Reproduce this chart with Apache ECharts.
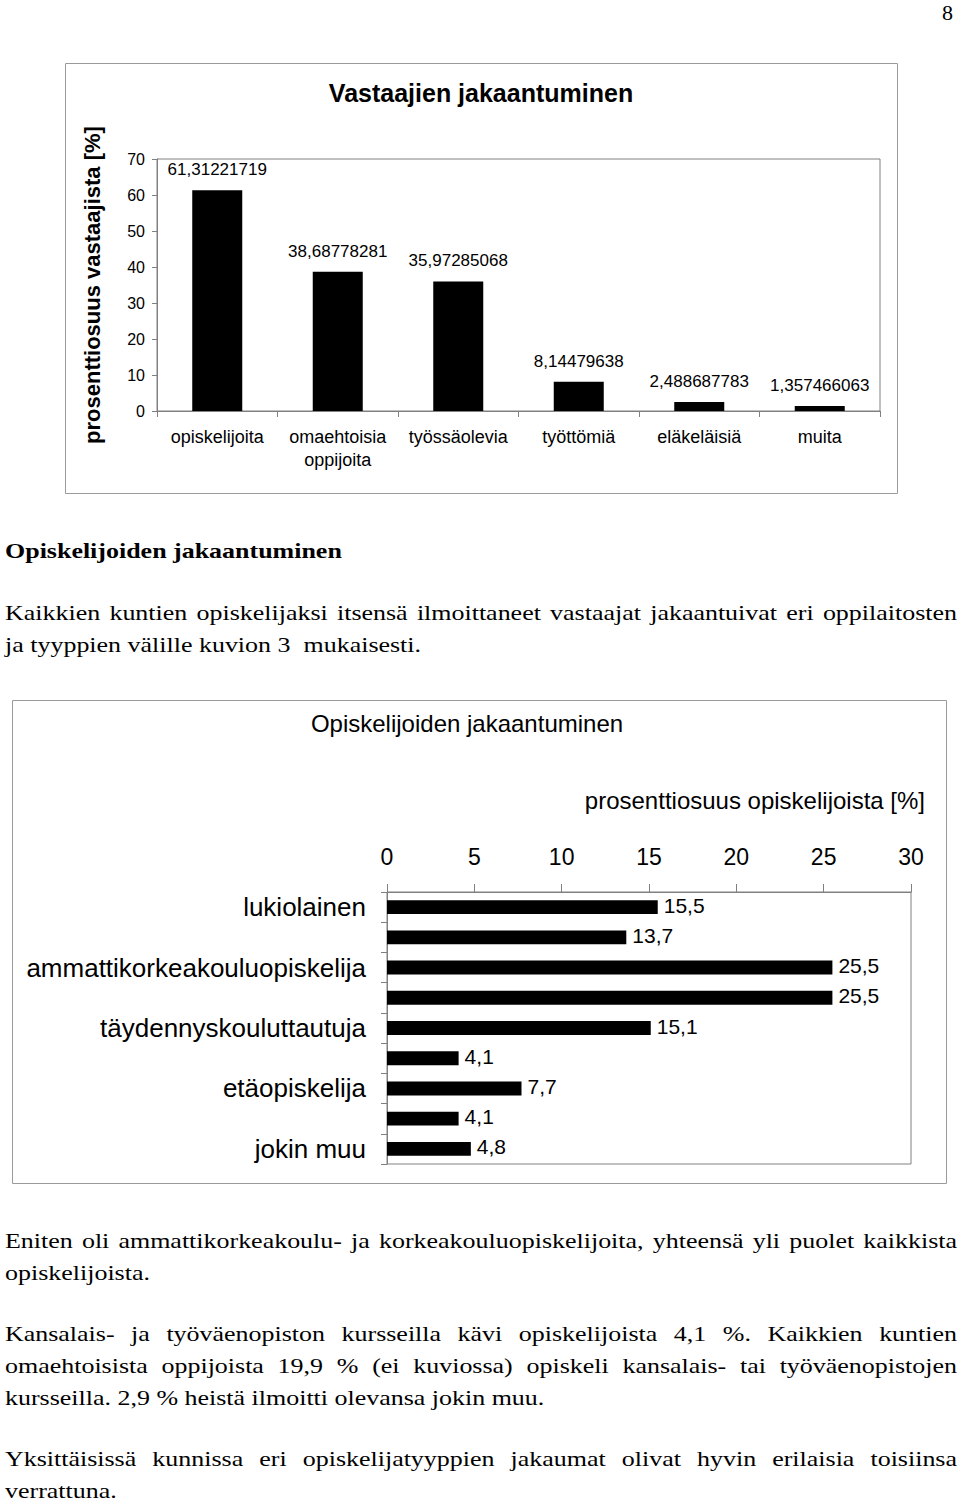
<!DOCTYPE html>
<html>
<head>
<meta charset="utf-8">
<script src="https://cdn.jsdelivr.net/npm/echarts@6/dist/echarts.min.js"></script>
<style>
  html, body { margin: 0; padding: 0; background: #fff; }
  #page { position: relative; width: 960px; height: 1502px; overflow: hidden; background: #fff; }
  #chart { position: absolute; left: 0; top: 0; width: 960px; height: 1502px; }
  .ln { position: absolute; left: 5px; height: 32px; line-height: 32px; white-space: pre;
        font-family: "Liberation Serif", "Times New Roman", serif; font-size: 22px; color: #000;
        transform-origin: 0 50%; }
</style>
</head>
<body>
<div id="page">
  <div id="chart"></div>
</div>
<script>
// ---- Chart 1 data: Vastaajien jakaantuminen ----
const cats1 = ['opiskelijoita', 'omaehtoisia\noppijoita', 'työssäolevia', 'työttömiä', 'eläkeläisiä', 'muita'];
const vals1 = [61.31221719, 38.68778281, 35.97285068, 8.14479638, 2.488687783, 1.357466063];
const yTicks1 = [0, 10, 20, 30, 40, 50, 60, 70];

// ---- Chart 2 data: Opiskelijoiden jakaantuminen ----
const cats2 = ['lukiolainen', '', 'ammattikorkeakouluopiskelija', '', 'täydennyskouluttautuja', '', 'etäopiskelija', '', 'jokin muu'];
const vals2 = [15.5, 13.7, 25.5, 25.5, 15.1, 4.1, 7.7, 4.1, 4.8];
const xTicks2 = [0, 5, 10, 15, 20, 25, 30];

// ---- Texts ----
const title1 = 'Vastaajien jakaantuminen';
const yName1 = 'prosenttiosuus vastaajista [%]';
const title2 = 'Opiskelijoiden jakaantuminen';
const xName2 = 'prosenttiosuus opiskelijoista [%]';

const SANS = '"Liberation Sans", Arial, sans-serif';
const comma = v => String(v).replace('.', ',');

const chart = echarts.init(document.getElementById('chart'), null, { renderer: 'svg' });
chart.setOption({
  backgroundColor: 'transparent',
  animation: false,
  textStyle: { fontFamily: SANS, color: '#000' },
  graphic: [
    { type: 'rect', shape: { x: 65.5, y: 63.5, width: 832, height: 430 }, style: { fill: 'none', stroke: '#9a9a9a', lineWidth: 1 } },
    { type: 'rect', shape: { x: 12.5, y: 700.5, width: 934, height: 483 }, style: { fill: 'none', stroke: '#9a9a9a', lineWidth: 1 } },
    { type: 'text', x: 481, y: 93, style: { text: title1, font: 'bold 25px ' + SANS, fill: '#000', textAlign: 'center', textVerticalAlign: 'middle' } },
    { type: 'text', x: 467, y: 723, style: { text: title2, font: '24px ' + SANS, fill: '#000', textAlign: 'center', textVerticalAlign: 'middle' } },
    { type: 'text', x: 925, y: 800, style: { text: xName2, font: '24px ' + SANS, fill: '#000', textAlign: 'right', textVerticalAlign: 'middle' } }
  ],
  grid: [
    { left: 157, top: 159, width: 723, height: 252, show: true, borderColor: '#808080', borderWidth: 1, backgroundColor: 'transparent' },
    { left: 387, top: 892, width: 524, height: 272, show: true, borderColor: '#808080', borderWidth: 1, backgroundColor: 'transparent' }
  ],
  xAxis: [
    {
      type: 'category', gridIndex: 0, data: cats1,
      axisLine: { show: true, lineStyle: { color: '#808080' } },
      axisTick: { show: true, length: 6, lineStyle: { color: '#808080' } },
      axisLabel: { interval: 0, fontSize: 18, color: '#000', margin: 14, lineHeight: 23 },
      splitLine: { show: false }
    },
    {
      type: 'value', gridIndex: 1, position: 'top',
      min: xTicks2[0], max: xTicks2[xTicks2.length - 1], interval: xTicks2[1] - xTicks2[0],
      axisLine: { show: true, lineStyle: { color: '#808080' } },
      axisTick: { show: true, length: 8, lineStyle: { color: '#808080' } },
      axisLabel: { fontSize: 23, color: '#000', margin: 24 },
      splitLine: { show: false }
    }
  ],
  yAxis: [
    {
      type: 'value', gridIndex: 0,
      min: yTicks1[0], max: yTicks1[yTicks1.length - 1], interval: yTicks1[1] - yTicks1[0],
      axisLine: { show: true, lineStyle: { color: '#808080' } },
      axisTick: { show: true, length: 5, lineStyle: { color: '#808080' } },
      axisLabel: { fontSize: 16, color: '#000', margin: 12 },
      splitLine: { show: false },
      name: yName1, nameLocation: 'middle', nameRotate: 90, nameGap: 54,
      nameTextStyle: { fontSize: 22, fontWeight: 'bold', color: '#000', fontFamily: SANS }
    },
    {
      type: 'category', gridIndex: 1, data: cats2, inverse: true,
      axisLine: { show: true, lineStyle: { color: '#808080' } },
      axisTick: { show: true, length: 6, lineStyle: { color: '#808080' } },
      axisLabel: { interval: 0, fontSize: 26, color: '#000', margin: 21 },
      splitLine: { show: false }
    }
  ],
  series: [
    {
      type: 'bar', xAxisIndex: 0, yAxisIndex: 0, data: vals1, barWidth: '41.5%',
      itemStyle: { color: '#000' },
      label: { show: true, position: 'top', distance: 12, fontSize: 17, color: '#000', formatter: p => comma(p.value) }
    },
    {
      type: 'bar', xAxisIndex: 1, yAxisIndex: 1, data: vals2, barWidth: '46%',
      itemStyle: { color: '#000' },
      label: { show: true, position: 'right', distance: 6, fontSize: 21, color: '#000', offset: [0, -2], formatter: p => comma(p.value) }
    }
  ]
});

// ---- Document prose (Times-like, horizontally stretched as in the scan) ----
const S = 1.18;
const FULL = 952;
const lines = [
  { t: 'Opiskelijoiden jakaantuminen', y: 551, bold: true },
  { t: 'Kaikkien kuntien opiskelijaksi itsensä ilmoittaneet vastaajat jakaantuivat eri oppilaitosten', y: 613, j: true },
  { t: 'ja tyyppien välille kuvion 3  mukaisesti.', y: 645 },
  { t: 'Eniten oli ammattikorkeakoulu- ja korkeakouluopiskelijoita, yhteensä yli puolet kaikkista', y: 1241, j: true },
  { t: 'opiskelijoista.', y: 1273 },
  { t: 'Kansalais- ja työväenopiston kursseilla kävi opiskelijoista 4,1 %. Kaikkien kuntien', y: 1334, j: true },
  { t: 'omaehtoisista oppijoista 19,9 % (ei kuviossa) opiskeli kansalais- tai työväenopistojen', y: 1366, j: true },
  { t: 'kursseilla. 2,9 % heistä ilmoitti olevansa jokin muu.', y: 1398 },
  { t: 'Yksittäisissä kunnissa eri opiskelijatyyppien jakaumat olivat hyvin erilaisia toisiinsa', y: 1459, j: true },
  { t: 'verrattuna.', y: 1491 }
];
const page = document.getElementById('page');
lines.forEach(L => {
  const d = document.createElement('div');
  d.className = 'ln';
  d.textContent = L.t;
  d.style.top = (L.y - 16) + 'px';
  d.style.transform = 'scaleX(' + S + ')';
  if (L.bold) d.style.fontWeight = 'bold';
  page.appendChild(d);
  if (L.j) {
    const natural = d.getBoundingClientRect().width / S;
    const target = FULL / S;
    const gaps = (L.t.match(/ /g) || []).length;
    if (gaps > 0) d.style.wordSpacing = ((target - natural) / gaps) + 'px';
  }
});
const pn = document.createElement('div');
pn.className = 'ln';
pn.textContent = '8';
pn.style.left = '942px';
pn.style.top = (13 - 16) + 'px';
page.appendChild(pn);
</script>
</body>
</html>
